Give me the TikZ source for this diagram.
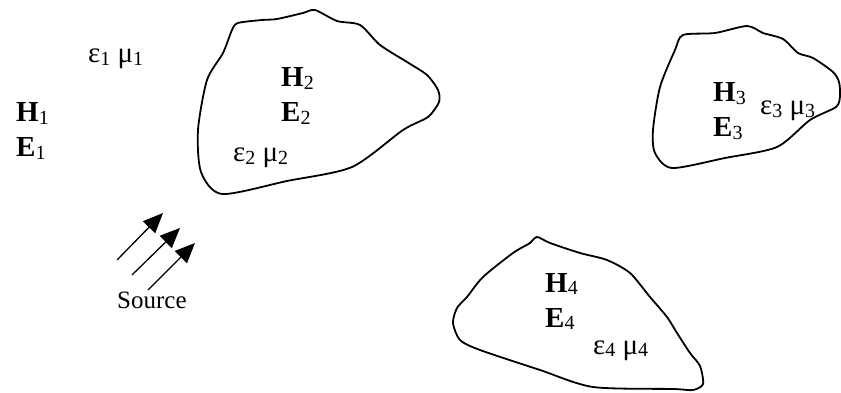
\documentclass[tikz,border=0pt]{standalone}
\usepackage{fontspec}
\setmainfont{Liberation Serif}
\usetikzlibrary{arrows.meta}
\newcommand\lsub[1]{\raisebox{-0.08em}{\fontsize{20}{20}\selectfont #1}}
\tikzset{
  lbl/.style={anchor=base west,inner sep=0pt,font=\fontsize{29}{30}\selectfont},
  body/.style={line width=1.8pt,smooth cycle,tension=0.45},
  ray/.style={line width=1.3pt,-{Triangle[length=20pt,width=17pt]}}
}
\begin{document}
\begin{tikzpicture}[x=1pt,y=-1pt]
\useasboundingbox (0,0) rectangle (841,393);
\draw[body] plot coordinates {(238,23) (262,20) (277,19) (303,13) (315,10) (337,21) (360,25)
  (380,45) (407,62) (427,75) (438,90) (439,102) (428,117) (403,130) (352,167) (287,181)
  (222,194) (201,172) (198,130) (207,80) (223,53) (232,30)};
\draw[body] plot coordinates {(683,35) (715,33) (747,26) (763,33) (783,39) (798,53) (813,58)
  (833,72) (839,82) (840,96) (836,107) (810,120) (777,147) (725,158) (672,168) (655,153)
  (653,130) (660,87) (675,50)};
\draw[body] plot coordinates {(537,237) (550,243) (580,253) (607,260) (630,273) (650,297)
  (667,317) (677,333) (690,353) (700,366) (703,384) (693,390) (673,389) (593,387) (540,370)
  (480,350) (460,340) (453,323) (457,308) (467,297) (483,277) (513,253) (530,243)};
\node[lbl] (em1) at (88,63) {ε\lsub{1} μ\lsub{1}};
\node[lbl] (h1) at (16,122) {\textbf{H}\lsub{1}};
\node[lbl] (e1) at (16,157) {\textbf{E}\lsub{1}};
\node[lbl] (h2) at (281,87) {\textbf{H}\lsub{2}};
\node[lbl] (e2) at (281,122) {\textbf{E}\lsub{2}};
\node[lbl] (em2) at (233,162) {ε\lsub{2} μ\lsub{2}};
\node[lbl] (h3) at (713,102) {\textbf{H}\lsub{3}};
\node[lbl] (e3) at (713,137) {\textbf{E}\lsub{3}};
\node[lbl] (em3) at (760,115) {ε\lsub{3} μ\lsub{3}};
\node[lbl] (h4) at (545,292) {\textbf{H}\lsub{4}};
\node[lbl] (e4) at (545,327) {\textbf{E}\lsub{4}};
\node[lbl] (em4) at (593,354) {ε\lsub{4} μ\lsub{4}};
\node[lbl,font=\fontsize{25}{26}\selectfont] (src) at (117,308) {Source};
\coordinate (r1a) at (117,260); \coordinate (r1b) at (163,213);
\coordinate (r2a) at (132,275); \coordinate (r2b) at (180,228);
\coordinate (r3a) at (148,290); \coordinate (r3b) at (195,243);
\draw[ray] (r1a) -- (r1b);
\draw[ray] (r2a) -- (r2b);
\draw[ray] (r3a) -- (r3b);
\end{tikzpicture}
\end{document}
